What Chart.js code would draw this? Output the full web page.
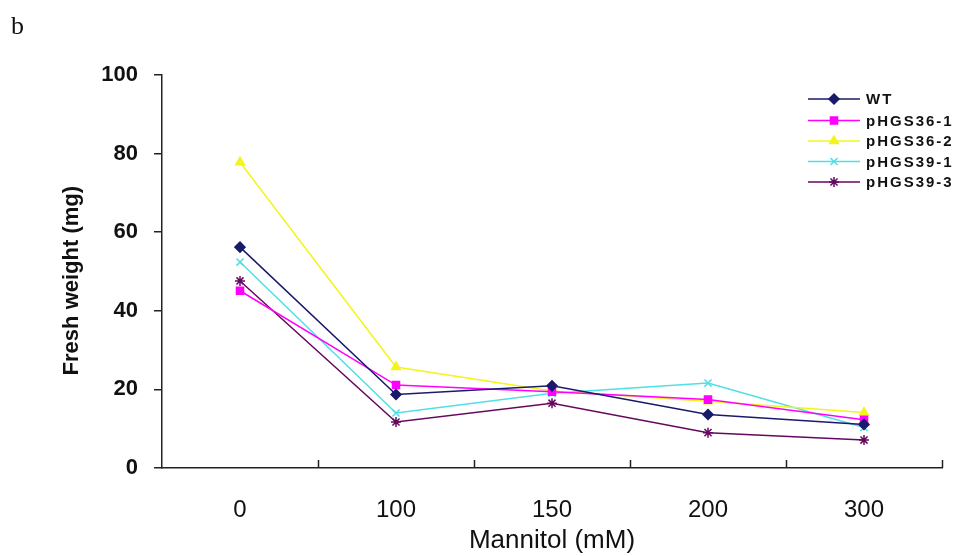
<!DOCTYPE html>
<html>
<head>
  <title>Fresh weight vs Mannitol</title>
  <script src="https://cdn.jsdelivr.net/npm/chart.js"></script>
  <style>
    html, body { margin: 0; padding: 0; background: #fff; }
    #wrap { width: 968px; height: 556px; position: relative; }
  </style>
</head>
<body>
  <div id="wrap"><canvas id="lineChart" width="968" height="556"></canvas></div>

  <script>
    // categorias e valores
    const concentracoes = ['0', '100', '150', '200', '300'];
    const linhagens = ['WT', 'pHGS36-1', 'pHGS36-2', 'pHGS39-1', 'pHGS39-3'];
    const valoresWT = [56.2, 18.7, 20.9, 13.6, 11.1];
    const valores36_1 = [45.1, 21.1, 19.4, 17.4, 12.3];
    const valores36_2 = [77.8, 25.7, 19.6, 17.0, 14.1];
    const valores39_1 = [52.4, 14.0, 19.0, 21.6, 10.3];
    const valores39_3 = [47.6, 11.7, 16.5, 9.0, 7.1];
    const ticksY = [0, 20, 40, 60, 80, 100];

    const cores = ['#1a1a6b', '#ff00ff', '#f4f41c', '#4ee0e6', '#66085e'];
    const simbolos = ['rectRot', 'rect', 'triangle', 'crossRot', 'star'];
    const raios = [5, 5, 5, 5, 5];
    const series = [valoresWT, valores36_1, valores36_2, valores39_1, valores39_3];

    const ctx = document.getElementById('lineChart').getContext('2d');

    // letra "b", marcas do eixo x e legenda
    const decoracao = {
      id: 'decoracao',
      afterDraw(chart) {
        const c = chart.ctx;
        const x = chart.scales.x;
        const area = chart.chartArea;
        c.save();
        c.fillStyle = '#111';
        c.font = '26px "Liberation Serif"';
        c.textBaseline = 'alphabetic';
        c.fillText('b', 11, 34);

        c.strokeStyle = '#222';
        c.lineWidth = 1.5;
        c.beginPath();
        for (let i = 0; i < concentracoes.length; i++) {
          let px;
          if (i < concentracoes.length - 1) {
            px = (x.getPixelForTick(i) + x.getPixelForTick(i + 1)) / 2;
          } else {
            px = area.right;
          }
          px = Math.round(px) + 0.5;
          c.moveTo(px, area.bottom);
          c.lineTo(px, area.bottom - 8);
        }
        c.stroke();

        // legenda dentro da área do gráfico
        const lx0 = 808, lx1 = 860, tx = 866;
        const ys = [99, 120.5, 141, 161.5, 182];
        c.font = 'bold 15px "Liberation Sans"';
        c.textBaseline = 'middle';
        c.letterSpacing = '2px';
        chart.data.datasets.forEach((ds, i) => {
          c.strokeStyle = ds.borderColor;
          c.lineWidth = 1.5;
          c.beginPath();
          c.moveTo(lx0, ys[i]);
          c.lineTo(lx1, ys[i]);
          c.stroke();
          c.fillStyle = ds.backgroundColor;
          c.strokeStyle = ds.borderColor;
          Chart.helpers.drawPoint(c, {
            pointStyle: ds.pointStyle,
            radius: ds.pointRadius,
            borderWidth: 1.5,
            rotation: 0
          }, (lx0 + lx1) / 2, ys[i]);
          c.fillStyle = '#111';
          c.fillText(ds.label, tx, ys[i] + 1);
        });
        c.restore();
      }
    };

    const lineChart = new Chart(ctx, {
      type: 'line',
      data: {
        labels: concentracoes,
        datasets: linhagens.map((nome, i) => ({
          label: nome,
          data: series[i],
          borderColor: cores[i],
          backgroundColor: cores[i],
          borderWidth: 1.5,
          pointStyle: simbolos[i],
          pointRadius: raios[i],
          pointBorderWidth: 1.5,
          tension: 0,
          fill: false,
        })),
      },
      options: {
        responsive: false,
        animation: false,
        layout: { padding: { top: 75, right: 26, bottom: 0, left: 0 } },
        plugins: {
          legend: { display: false },
          tooltip: { enabled: false },
        },
        scales: {
          x: {
            type: 'category',
            offset: true,
            afterFit(scale) { scale.height = 88; },
            grid: { display: false, drawTicks: false },
            border: { display: true, color: '#222', width: 1.5 },
            ticks: {
              color: '#111',
              padding: 28,
              font: { family: 'Liberation Sans', size: 24 },
            },
            title: {
              display: true,
              text: 'Mannitol (mM)',
              color: '#111',
              padding: { top: 0, bottom: 0 },
              font: { family: 'Liberation Sans', size: 26 },
            },
          },
          y: {
            min: 0,
            max: 100,
            afterFit(scale) { scale.width = 162; },
            afterBuildTicks(scale) { scale.ticks = ticksY.map(v => ({ value: v })); },
            grid: { drawOnChartArea: false, drawTicks: true, tickLength: 8, color: '#222', lineWidth: 1.5 },
            border: { display: true, color: '#222', width: 1.5 },
            ticks: {
              color: '#111',
              padding: 16,
              font: { family: 'Liberation Sans', size: 22, weight: 'bold' },
            },
            title: {
              display: true,
              text: 'Fresh weight (mg)   ',
              color: '#111',
              padding: { top: 59, bottom: 0 },
              font: { family: 'Liberation Sans', size: 22, weight: 'bold' },
            },
          },
        },
      },
      plugins: [decoracao],
    });
  </script>
</body>
</html>
